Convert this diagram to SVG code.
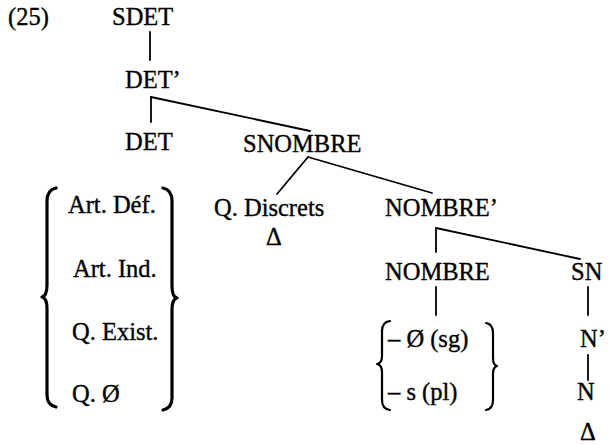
<svg xmlns="http://www.w3.org/2000/svg" width="610" height="444" viewBox="0 0 610 444">
<style>
text{font-family:"Liberation Serif","Times New Roman",serif;font-size:24.5px;fill:#000;stroke:#000;stroke-width:0.35}
.e{stroke:#000;stroke-width:1.8;fill:none;stroke-linecap:round}
.b{stroke:#000;stroke-width:3.2;fill:none;stroke-linecap:round;stroke-linejoin:round}
.b2{stroke:#000;stroke-width:2.2;fill:none;stroke-linecap:round;stroke-linejoin:round}
</style>
<rect width="610" height="444" fill="#fff"/>
<g id="label"><text x="8" y="25">(25)</text></g>
<g id="sdet"><text x="112" y="25">SDET</text></g>
<g id="detbar"><text x="125" y="88">DET’</text></g>
<g id="det"><text x="125" y="150">DET</text></g>
<g id="snombre"><text x="243" y="152">SNOMBRE</text></g>
<g id="detlist">
<path class="b" d="M56 188 Q47 190 47 201 L47 285 Q47 296 42 297 Q47 298 47 309 L47 395 Q47 405 56 407"/>
<text x="68" y="213">Art. Déf.</text>
<text x="73" y="277">Art. Ind.</text>
<text x="72" y="340">Q. Exist.</text>
<text x="72" y="402">Q. Ø</text>
<path class="b" d="M163 188 Q172 190 172 201 L172 286 Q172 297 177 298 Q172 299 172 310 L172 398 Q172 408 163 410"/>
</g>
<g id="qdiscrets"><text x="214" y="216">Q. Discrets</text><text x="266" y="245">Δ</text></g>
<g id="nombrebar"><text x="385" y="216">NOMBRE’</text></g>
<g id="nombre"><text x="385" y="280">NOMBRE</text></g>
<g id="sn"><text x="571" y="280">SN</text></g>
<g id="nombrelist">
<path class="b2" d="M390 321 Q382 322 382 331 L382 356 Q382 363 377 364 Q382 365 382 372 L382 400 Q382 409 390 410"/>
<text x="388" y="347">– Ø (sg)</text>
<text x="388" y="400">– s (pl)</text>
<path class="b2" d="M486 323 Q493 324 493 333 L493 358 Q493 365 497 366 Q493 367 493 374 L493 400 Q493 409 486 410"/>
</g>
<g id="nbar"><text x="580" y="347">N’</text></g>
<g id="n"><text x="577" y="400">N</text><text x="580" y="440">Δ</text></g>
<g id="connectors">
<line class="e" x1="150" y1="32" x2="150" y2="60"/>
<line class="e" x1="151" y1="97" x2="151" y2="122"/>
<line class="e" x1="151" y1="97" x2="310" y2="131"/>
<line class="e" x1="308" y1="157" x2="277" y2="194"/>
<line class="e" x1="308" y1="157" x2="432" y2="193"/>
<line class="e" x1="436" y1="228" x2="436" y2="252"/>
<line class="e" x1="436" y1="228" x2="580" y2="259"/>
<line class="e" x1="436" y1="287" x2="436" y2="315"/>
<line class="e" x1="588" y1="287" x2="588" y2="315"/>
<line class="e" x1="588" y1="355" x2="588" y2="380"/>
</g>
</svg>
